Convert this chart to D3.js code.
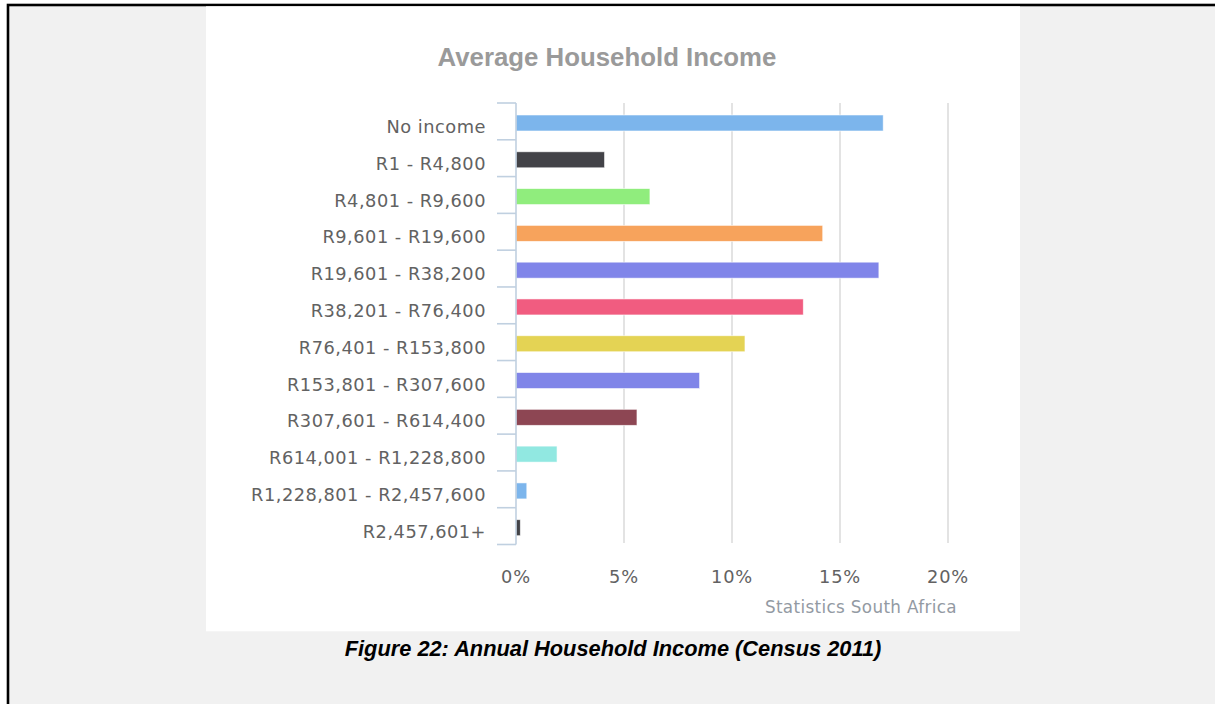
<!DOCTYPE html>
<html>
<head>
<meta charset="utf-8">
<script src="https://cdn.jsdelivr.net/npm/d3@7"></script>
<style>
  html, body { margin: 0; padding: 0; background: #ffffff; }
  svg { display: block; }
</style>
</head>
<body>
<svg id="chart" width="1215" height="704"></svg>
<script>
// Household income distribution, Census 2011 (share of households, %)
const categories = [
  "No income",
  "R1 - R4,800",
  "R4,801 - R9,600",
  "R9,601 - R19,600",
  "R19,601 - R38,200",
  "R38,201 - R76,400",
  "R76,401 - R153,800",
  "R153,801 - R307,600",
  "R307,601 - R614,400",
  "R614,001 - R1,228,800",
  "R1,228,801 - R2,457,600",
  "R2,457,601+"
];
const shares = [17.0, 4.1, 6.2, 14.2, 16.8, 13.3, 10.6, 8.5, 5.6, 1.9, 0.5, 0.2];
const barColors = [
  "#7cb5ec", "#434348", "#90ed7d", "#f7a35c", "#8085e9", "#f15c80",
  "#e4d354", "#8085e8", "#8d4653", "#91e8e1", "#7cb5ec", "#434348"
];
const xTicks = [0, 5, 10, 15, 20];
const chartTitle = "Average Household Income";
const creditText = "Statistics South Africa";
const captionText = "Figure 22: Annual Household Income (Census 2011)";

const svg = d3.select("#chart");

// page frame: grey sheet with a black rule on the left and top
svg.append("rect")
  .attr("x", 8).attr("y", 5).attr("width", 1215).attr("height", 710)
  .attr("fill", "#f1f1f1").attr("stroke", "#000").attr("stroke-width", 2.6);

// white chart panel
svg.append("rect")
  .attr("x", 206).attr("y", 6.3).attr("width", 814).attr("height", 625)
  .attr("fill", "#ffffff");

const x = d3.scaleLinear().domain([0, 20]).range([516, 948]);
const y = d3.scaleBand().domain(categories).range([103, 544.5]).paddingInner(0).paddingOuter(0);
const barH = 16;
const barOffset = 1.6;

// vertical grid lines
svg.append("g").selectAll("line")
  .data(xTicks.filter(d => d > 0))
  .join("line")
  .attr("x1", d => x(d)).attr("x2", d => x(d))
  .attr("y1", 103).attr("y2", 543)
  .attr("stroke", "#dcdcdc").attr("stroke-width", 1.6);

// bars
svg.append("g").selectAll("rect")
  .data(categories)
  .join("rect")
  .attr("x", x(0))
  .attr("y", d => y(d) + y.bandwidth() / 2 + barOffset - barH / 2)
  .attr("width", (d, i) => x(shares[i]) - x(0))
  .attr("height", barH)
  .attr("fill", (d, i) => barColors[i])
  .attr("stroke", "#ffffff").attr("stroke-width", 0.8).attr("stroke-opacity", 0.7);

// category axis line and boundary ticks
const axisG = svg.append("g");
axisG.append("line")
  .attr("x1", x(0)).attr("x2", x(0))
  .attr("y1", y.range()[0]).attr("y2", y.range()[1])
  .attr("stroke", "#c0d0e0").attr("stroke-width", 1.6);
const boundaries = categories.map(c => y(c)).concat([y.range()[1]]);
axisG.selectAll("line.tick")
  .data(boundaries)
  .join("line")
  .attr("class", "tick")
  .attr("x1", x(0) - 19).attr("x2", x(0))
  .attr("y1", d => d).attr("y2", d => d)
  .attr("stroke", "#c0d0e0").attr("stroke-width", 1.6);

// category labels
svg.append("g").selectAll("text")
  .data(categories)
  .join("text")
  .attr("x", 486)
  .attr("y", d => y(d) + y.bandwidth() / 2 + barOffset + 10)
  .attr("text-anchor", "end")
  .attr("font-family", "DejaVu Sans, Verdana, sans-serif")
  .attr("font-size", 17.8)
  .attr("letter-spacing", 0.5)
  .attr("fill", "#626262")
  .text(d => d);

// value axis labels
svg.append("g").selectAll("text")
  .data(xTicks)
  .join("text")
  .attr("x", d => x(d))
  .attr("y", 583)
  .attr("text-anchor", "middle")
  .attr("font-family", "DejaVu Sans, Verdana, sans-serif")
  .attr("font-size", 17.8)
  .attr("letter-spacing", 0.8)
  .attr("fill", "#626262")
  .text(d => d + "%");

// title
svg.append("text")
  .attr("x", 607).attr("y", 66)
  .attr("text-anchor", "middle")
  .attr("font-family", "Liberation Sans, Arial, sans-serif")
  .attr("font-weight", "bold")
  .attr("font-size", 25.8)
  .attr("fill", "#9a9a9a")
  .text(chartTitle);

// source credit
svg.append("text")
  .attr("x", 957).attr("y", 613)
  .attr("text-anchor", "end")
  .attr("font-family", "DejaVu Sans, Verdana, sans-serif")
  .attr("font-size", 16.8)
  .attr("letter-spacing", 0.35)
  .attr("fill", "#939aa3")
  .text(creditText);

// figure caption
svg.append("text")
  .attr("x", 613).attr("y", 656)
  .attr("text-anchor", "middle")
  .attr("font-family", "Liberation Sans, Arial, sans-serif")
  .attr("font-weight", "bold")
  .attr("font-style", "italic")
  .attr("font-size", 21.8)
  .attr("fill", "#000000")
  .text(captionText);
</script>
</body>
</html>
